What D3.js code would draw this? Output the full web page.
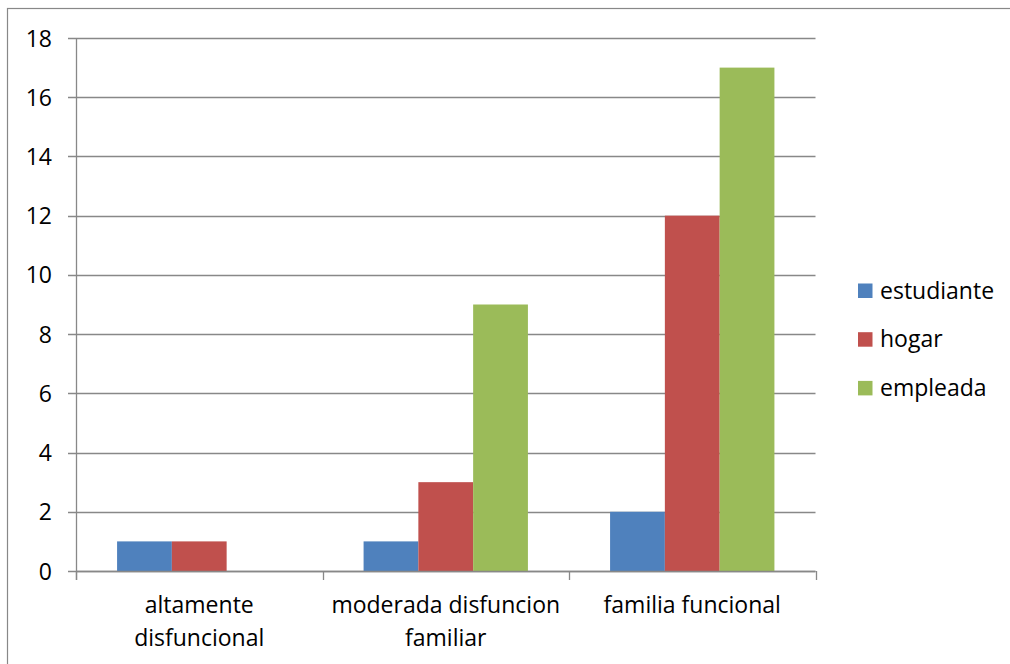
<!DOCTYPE html>
<html><head><meta charset="utf-8">
<script src="https://cdn.jsdelivr.net/npm/d3@7"></script>
<style>body{margin:0;background:#fff}svg{display:block}text{font-family:"Open Sans",sans-serif;fill:#000}</style>
</head><body>
<script>
const categories = [["altamente","disfuncional"],["moderada disfuncion","familiar"],["familia funcional"]];
const seriesNames = ["estudiante","hogar","empleada"];
const estudiante = [1,1,2];
const hogar = [1,3,12];
const empleada = [0,9,17];
const colors = ["#4F81BD","#C0504D","#9BBB59"];
const yTicks = [0,2,4,6,8,10,12,14,16,18];

(function(){
const W=1010,H=664;
const svg=d3.select("body").append("svg").attr("width",W).attr("height",H);
svg.append("rect").attr("x",7.5).attr("y",8.5).attr("width",1200).attr("height",1000)
  .attr("fill","none").attr("stroke","#888").attr("stroke-width",1.2);

const pL=76,pR=815.5,pT=38,pB=571;
const x=d3.scaleBand().domain(d3.range(categories.length)).range([pL,pR]).paddingInner(0).paddingOuter(0);
const y=d3.scaleLinear().domain([0,18]).range([pB,pT]);
const xs=d3.scaleBand().domain(d3.range(seriesNames.length)).range([0,x.bandwidth()]).paddingInner(0).paddingOuter(0.75);

const g=svg.append("g");
g.selectAll("line.grid").data(yTicks).join("line")
  .attr("x1",pL-8).attr("x2",pR).attr("y1",d=>Math.round(y(d))+0.5).attr("y2",d=>Math.round(y(d))+0.5)
  .attr("stroke","#888").attr("stroke-width",1.3);

const data=[estudiante,hogar,empleada];
categories.forEach((c,i)=>{
  data.forEach((s,j)=>{
    if(s[i]>0) svg.append("rect").attr("x",x(i)+xs(j)).attr("width",xs.bandwidth())
      .attr("y",y(s[i])).attr("height",y(0)-y(s[i])).attr("fill",colors[j]);
  });
});

svg.append("line").attr("x1",pL+0.5).attr("x2",pL+0.5).attr("y1",pT).attr("y2",pB+9).attr("stroke","#888").attr("stroke-width",1.3);
svg.append("line").attr("x1",pL).attr("x2",pR).attr("y1",Math.round(y(0))+0.5).attr("y2",Math.round(y(0))+0.5).attr("stroke","#888").attr("stroke-width",1.3);
const catTicks=d3.range(categories.length+1).map(i=>i<categories.length?x(i):pR);
svg.selectAll("line.ct").data(catTicks).join("line").attr("x1",d=>Math.round(d)+0.5).attr("x2",d=>Math.round(d)+0.5)
  .attr("y1",pB).attr("y2",pB+9).attr("stroke","#888").attr("stroke-width",1.3);

svg.selectAll("text.yl").data(yTicks).join("text").attr("x",52).attr("y",d=>y(d)+8.5)
  .attr("text-anchor","end").style("font-size","23px").text(d=>d);

categories.forEach((c,i)=>{
  c.forEach((line,k)=>{
    svg.append("text").attr("x",x(i)+x.bandwidth()/2).attr("y",613+k*32.5).attr("text-anchor","middle")
      .style("font-size","23px").text(line);
  });
});

seriesNames.forEach((n,j)=>{
  const cy=290.5+j*48.7;
  svg.append("rect").attr("x",858).attr("y",cy-7).attr("width",14.5).attr("height",14.5).attr("fill",colors[j]);
  svg.append("text").attr("x",880).attr("y",cy+8).style("font-size","23px").text(n);
});
})();
</script>
</body></html>
